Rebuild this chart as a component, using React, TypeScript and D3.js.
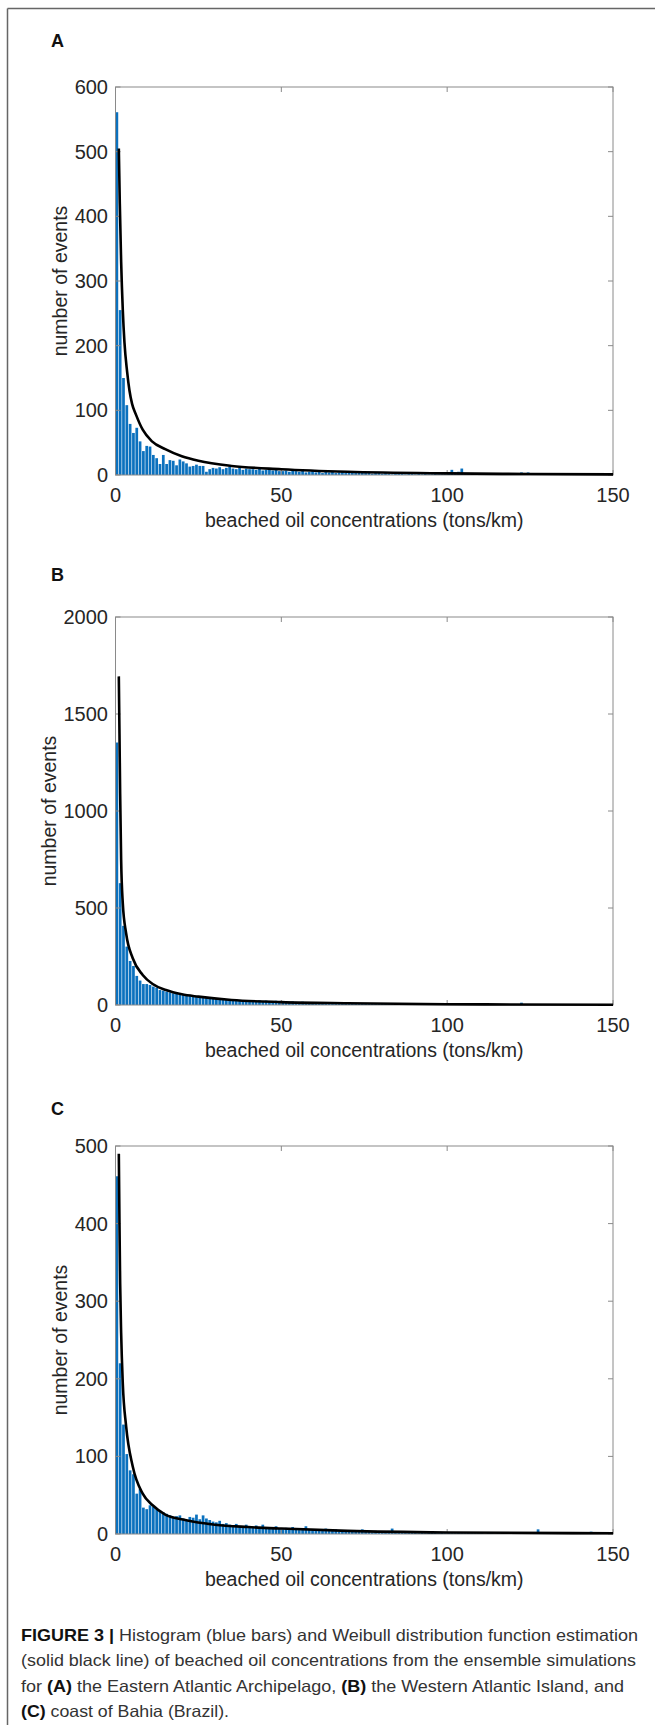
import React from "react";
import * as d3 from "d3";

// ---------- DATA ----------
const xTicks = [0, 50, 100, 150];
const panelLetters = ["A", "B", "C"];
const yMaxes = [600, 2000, 500];
const yTicksA = [0, 100, 200, 300, 400, 500, 600];
const yTicksB = [0, 500, 1000, 1500, 2000];
const yTicksC = [0, 100, 200, 300, 400, 500];

// histogram counts, bin width 1 ton/km, bins 0-1 ... 149-150
const countsA = [
  561, 255, 150, 108, 79, 65, 73, 52, 37, 45, 44, 31, 26, 17, 31, 17, 23, 22, 15, 24,
  21, 18, 13, 14, 16, 14, 14, 5, 9, 11, 10, 12, 9, 11, 13, 10, 9, 11, 8, 10,
  9, 9, 8, 10, 7, 8, 9, 7, 8, 6, 6, 7, 5, 8, 6, 5, 7, 4, 5, 6,
  4, 5, 3, 5, 4, 6, 3, 4, 5, 3, 5, 4, 3, 6, 4, 3, 5, 2, 3, 4,
  2, 3, 2, 1, 3, 2, 2, 1, 4, 2, 1, 2, 1, 2, 1, 1, 2, 1, 1, 1,
  3, 8, 4, 5, 10, 3, 2, 1, 2, 1, 1, 2, 3, 1, 1, 2, 1, 1, 1, 0,
  1, 2, 4, 1, 4, 2, 1, 1, 0, 1, 0, 1, 0, 1, 0, 0, 1, 0, 0, 1,
  0, 0, 1, 0, 0, 0, 1, 0, 0, 0,
];
const countsB = [
  1353, 628, 408, 301, 227, 201, 150, 126, 108, 108, 103, 95, 89, 77, 74, 69, 65, 60, 57, 55,
  52, 50, 48, 45, 43, 40, 42, 38, 36, 35, 33, 34, 30, 31, 28, 27, 29, 26, 25, 24,
  22, 25, 21, 24, 20, 23, 19, 18, 22, 17, 16, 20, 15, 18, 16, 14, 17, 15, 13, 12,
  14, 11, 13, 10, 9, 12, 10, 8, 15, 9, 8, 10, 7, 9, 6, 8, 7, 6, 8, 5,
  6, 7, 5, 8, 6, 5, 4, 7, 5, 6, 5, 4, 6, 5, 4, 5, 3, 6, 4, 5,
  4, 3, 5, 4, 3, 4, 3, 5, 3, 4, 2, 3, 4, 3, 2, 3, 2, 3, 4, 2,
  3, 2, 12, 3, 2, 2, 3, 2, 1, 2, 2, 1, 2, 1, 2, 1, 1, 2, 1, 1,
  1, 2, 1, 1, 1, 0, 1, 1, 0, 1,
];
const countsC = [
  461, 220, 141, 103, 82, 77, 52, 58, 34, 32, 37, 35, 32, 30, 28, 26, 24, 22, 23, 24,
  20, 18, 22, 21, 25, 19, 24, 20, 18, 16, 15, 17, 13, 14, 12, 11, 13, 10, 9, 12,
  10, 9, 11, 8, 12, 7, 9, 8, 10, 7, 6, 8, 7, 9, 6, 5, 7, 10, 6, 5,
  6, 5, 4, 7, 5, 4, 6, 3, 5, 4, 3, 5, 4, 3, 6, 4, 3, 2, 4, 3,
  3, 2, 4, 7, 3, 2, 3, 2, 2, 3, 2, 1, 2, 1, 2, 3, 2, 1, 2, 1,
  2, 1, 1, 2, 1, 1, 2, 1, 1, 1, 1, 0, 1, 1, 0, 1, 1, 0, 1, 1,
  0, 1, 0, 1, 0, 1, 1, 6, 0, 1, 0, 1, 0, 0, 1, 0, 0, 1, 0, 0,
  1, 0, 1, 3, 1, 0, 0, 1, 0, 0,
];

// Weibull fit curves
const curveAx = [1, 1.3, 1.7, 2.2, 2.7, 3.5, 4.2, 5, 6.2, 8.2, 11, 15, 20, 25, 35, 50, 70, 100, 125, 150];
const curveAy = [505, 420, 330, 255, 205, 160, 131, 110, 93, 70, 52, 40, 29, 22, 14, 9, 5, 2.5, 1.5, 1];
const curveBx = [1, 1.2, 1.4, 1.7, 2.2, 3.2, 5.2, 8.2, 11.2, 15.2, 20, 25, 35, 50, 70, 100, 150];
const curveBy = [1694, 1400, 1092, 748, 524, 370, 241, 155, 108, 77, 55, 43, 26, 15, 9, 4, 1.5];
const curveCx = [1, 1.2, 1.4, 1.7, 2.2, 3.2, 5.2, 8.2, 11.2, 15, 21, 30, 40, 50, 70, 100, 150];
const curveCy = [490, 400, 324, 259, 194, 139, 87, 52, 37, 25, 18, 12, 9, 7, 4, 2, 1];

const xLabel = "beached oil concentrations (tons/km)";
const yLabel = "number of events";

const captionLines: { parts: { t: string; b?: boolean }[]; w: number }[] = [
  { parts: [{ t: "FIGURE 3 | ", b: true }, { t: "Histogram (blue bars) and Weibull distribution function estimation" }], w: 617 },
  { parts: [{ t: "(solid black line) of beached oil concentrations from the ensemble simulations" }], w: 615 },
  { parts: [{ t: "for " }, { t: "(A)", b: true }, { t: " the Eastern Atlantic Archipelago, " }, { t: "(B)", b: true }, { t: " the Western Atlantic Island, and" }], w: 603 },
  { parts: [{ t: "(C)", b: true }, { t: " coast of Bahia (Brazil)." }], w: 208 },
];

// ---------- LAYOUT ----------
const W = 655;
const H = 1725;
const plotLeft = 115.5;
const plotRight = 613;
const panelTops = [87, 617, 1146];
const letterBaselines = [47, 581, 1115];
const yLabelX = [67, 56, 67];
const plotH = 388;
const FONT = "'Liberation Sans', Arial, Helvetica, sans-serif";
const BAR = "#0b71be";

const panels = [
  { counts: countsA, cx: curveAx, cy: curveAy, yTicks: yTicksA },
  { counts: countsB, cx: curveBx, cy: curveBy, yTicks: yTicksB },
  { counts: countsC, cx: curveCx, cy: curveCy, yTicks: yTicksC },
];

function Panel({ idx }: { idx: number }) {
  const p = panels[idx];
  const top = panelTops[idx];
  const bottom = top + plotH;
  const x = d3.scaleLinear().domain([0, 150]).range([plotLeft, plotRight]);
  const y = d3.scaleLinear().domain([0, yMaxes[idx]]).range([bottom, top]);
  const pts: [number, number][] = p.cx.map((v, i) => [v, p.cy[i]]);
  const line = d3
    .line<[number, number]>()
    .x((d) => x(d[0]))
    .y((d) => y(d[1]))
    .curve(d3.curveMonotoneX);
  const tl = 5;
  return (
    <g>
      <text x={51} y={letterBaselines[idx]} fontFamily={FONT} fontWeight="bold" fontSize={18} fill="#111">
        {panelLetters[idx]}
      </text>
      {p.counts.map((c, i) =>
        c > 0 ? (
          <rect
            key={i}
            x={x(i)}
            y={y(c)}
            width={Math.max(0.1, x(i + 1) - x(i) - 0.6)}
            height={bottom - y(c)}
            fill={BAR}
          />
        ) : null
      )}
      <rect x={plotLeft} y={top} width={plotRight - plotLeft} height={plotH} fill="none" stroke="#8a8a8a" strokeWidth={1} />
      {xTicks.map((t) => (
        <g key={"xt" + t}>
          <line x1={x(t)} x2={x(t)} y1={bottom} y2={bottom - tl} stroke="#8a8a8a" />
          <line x1={x(t)} x2={x(t)} y1={top} y2={top + tl} stroke="#8a8a8a" />
          <text x={x(t)} y={bottom + 27} textAnchor="middle" fontFamily={FONT} fontSize={20} fill="#262626">
            {t}
          </text>
        </g>
      ))}
      {p.yTicks.map((t) => (
        <g key={"yt" + t}>
          <line x1={plotLeft} x2={plotLeft + tl} y1={y(t)} y2={y(t)} stroke="#8a8a8a" />
          <line x1={plotRight} x2={plotRight - tl} y1={y(t)} y2={y(t)} stroke="#8a8a8a" />
          <text x={108} y={y(t) + 7} textAnchor="end" fontFamily={FONT} fontSize={20} fill="#262626">
            {t}
          </text>
        </g>
      ))}
      <path d={line(pts) || ""} fill="none" stroke="#000" strokeWidth={2.6} strokeLinejoin="round" />
      <text x={(plotLeft + plotRight) / 2} y={bottom + 52} textAnchor="middle" fontFamily={FONT} fontSize={19.5} fill="#262626">
        {xLabel}
      </text>
      <text
        transform={`translate(${yLabelX[idx]},${(top + bottom) / 2}) rotate(-90)`}
        textAnchor="middle"
        fontFamily={FONT}
        fontSize={19.5}
        fill="#262626"
      >
        {yLabel}
      </text>
    </g>
  );
}

export default function App() {
  return (
    <svg
      width={W}
      height={H}
      viewBox={`0 0 ${W} ${H}`}
      style={{ position: "absolute", left: 0, top: 0, background: "#fff" }}
    >
      <rect x={0} y={0} width={W} height={H} fill="#fff" />
      <line x1={7.5} x2={7.5} y1={8.5} y2={H} stroke="#666" strokeWidth={1.5} />
      <line x1={7.5} x2={W} y1={8.5} y2={8.5} stroke="#666" strokeWidth={1.5} />
      {[0, 1, 2].map((i) => (
        <Panel key={i} idx={i} />
      ))}
      {captionLines.map((ln, i) => (
        <text
          key={i}
          x={21}
          y={1641 + i * 25.3}
          fontFamily="'Liberation Sans', Arial, sans-serif"
          fontSize={16.5}
          fill="#333"
          textLength={ln.w}
          lengthAdjust="spacingAndGlyphs"
        >
          {ln.parts.map((pt, j) => (
            <tspan key={j} fontWeight={pt.b ? "bold" : "normal"} fill={pt.b ? "#111" : "#333"}>
              {pt.t}
            </tspan>
          ))}
        </text>
      ))}
    </svg>
  );
}
